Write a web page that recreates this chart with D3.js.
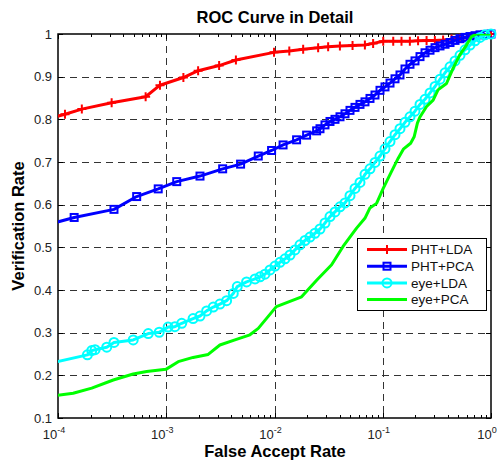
<!DOCTYPE html>
<html>
<head>
<meta charset="utf-8">
<script src="https://cdn.jsdelivr.net/npm/d3@7"></script>
<style>
  body { margin: 0; background: #fff; }
  text { font-family: "Liberation Sans", Arial, Helvetica, sans-serif; }
</style>
</head>
<body>
<svg id="chart" width="502" height="461"></svg>
<script>
// data: [false accept rate, verification rate]
var phtLda = [[7e-5,0.797],[1.16e-4,0.812],[1.66e-4,0.824],[3.13e-4,0.839],[6.45e-4,0.853],[8.75e-4,0.880],
  [1.44e-3,0.898],[1.97e-3,0.914],[3.08e-3,0.926],[4.4e-3,0.939],[9.9e-3,0.957],[1.37e-2,0.960],[1.84e-2,0.964],
  [2.53e-2,0.968],[3.13e-2,0.970],[4.02e-2,0.972],[5.26e-2,0.973],[6.84e-2,0.974],[8.15e-2,0.978],[0.101,0.983],
  [0.125,0.983],[0.149,0.983],[0.178,0.983],[0.212,0.984],[0.254,0.985],[0.303,0.985],[0.361,0.986],[0.432,0.988],
  [0.515,0.990],[0.615,0.992],[0.735,0.995],[0.845,0.998],[1.0,1.0]];

var phtPca = [[8e-5,0.553],[1.41e-4,0.570],[3.29e-4,0.589],[5.33e-4,0.619],[8.43e-4,0.637],[1.25e-3,0.654],
  [2.05e-3,0.667],[3.32e-3,0.684],[4.86e-3,0.695],[7.08e-3,0.714],[9.4e-3,0.727],[1.2e-2,0.740],[1.6e-2,0.752],
  [1.98e-2,0.763],[2.45e-2,0.773],[2.632e-2,0.778],[2.927e-2,0.787],[3.256e-2,0.795],[3.621e-2,0.800],
  [4.028e-2,0.806],[4.48e-2,0.813],[4.983e-2,0.821],[5.541e-2,0.828],[6.163e-2,0.835],[6.855e-2,0.841],
  [7.624e-2,0.849],[8.48e-2,0.857],[9.432e-2,0.868],[0.1049,0.876],[0.1167,0.885],[0.1298,0.895],[0.1443,0.904],
  [0.1605,0.918],[0.1785,0.929],[0.1986,0.937],[0.2209,0.947],[0.2457,0.956],[0.2733,0.962],[0.304,0.968],
  [0.3381,0.972],[0.376,0.976],[0.4182,0.980],[0.4651,0.985],[0.5173,0.989],[0.5754,0.992],[0.6399,0.994],
  [0.7118,0.996],[0.7916,0.998],[0.8804,0.999],[1.0,1.0]];

var eyeLda = [[8e-5,0.227],[1.87e-4,0.248],[2.05e-4,0.258],[2.2e-4,0.260],[2.82e-4,0.266],[3.29e-4,0.277],
  [4.95e-4,0.283],[6.82e-4,0.298],[8.61e-4,0.301],[1.04e-3,0.313],[1.2e-3,0.314],[1.39e-3,0.322],[1.77e-3,0.333],
  [2.05e-3,0.339],[2.36e-3,0.351],[2.72e-3,0.360],[3.13e-3,0.367],[3.61e-3,0.375],[4.16e-3,0.392],[4.53e-3,0.408],
  [5.52e-3,0.419],[6.61e-3,0.426],[7.35e-3,0.431],[8.17e-3,0.437],[9.09e-3,0.447],[1.011e-2,0.456],
  [1.124e-2,0.465],[1.25e-2,0.473],[1.39e-2,0.482],[1.546e-2,0.494],[1.72e-2,0.506],[1.913e-2,0.516],
  [2.127e-2,0.524],[2.366e-2,0.533],[2.632e-2,0.543],[2.927e-2,0.557],[3.256e-2,0.572],[3.621e-2,0.583],
  [4.028e-2,0.595],[4.48e-2,0.604],[4.983e-2,0.621],[5.541e-2,0.638],[6.163e-2,0.652],[6.855e-2,0.671],
  [7.624e-2,0.684],[8.48e-2,0.699],[9.432e-2,0.714],[0.1049,0.731],[0.1167,0.748],[0.1298,0.764],[0.1443,0.778],
  [0.1605,0.793],[0.1785,0.806],[0.1986,0.819],[0.2209,0.835],[0.2457,0.847],[0.2733,0.862],[0.304,0.877],
  [0.3381,0.894],[0.376,0.909],[0.4182,0.923],[0.4651,0.937],[0.5173,0.950],[0.5754,0.963],[0.6399,0.974],
  [0.7118,0.984],[0.7916,0.992],[0.8804,0.998],[1.0,1.0]];

var eyePca = [[8e-5,0.150],[1.38e-4,0.158],[2.05e-4,0.170],[3.24e-4,0.189],[4.95e-4,0.203],[6.59e-4,0.209],
  [9.93e-4,0.214],[1.29e-3,0.232],[1.77e-3,0.242],[2.44e-3,0.249],[3.13e-3,0.271],[4.31e-3,0.283],[5.93e-3,0.295],
  [7.08e-3,0.310],[1.04e-2,0.361],[1.78e-2,0.384],[2.45e-2,0.423],[3.37e-2,0.459],[4.3e-2,0.502],[5.73e-2,0.545],
  [6.84e-2,0.568],[7.6e-2,0.592],[8.77e-2,0.603],[0.101,0.638],[0.12,0.677],[0.139,0.709],[0.155,0.730],
  [0.181,0.744],[0.195,0.759],[0.209,0.791],[0.220,0.805],[0.254,0.830],[0.292,0.845],[0.324,0.869],
  [0.388,0.884],[0.447,0.920],[0.515,0.951],[0.594,0.974],[0.661,0.994],[0.735,1.0],[1.0,1.0]];

var seriesNames = ["PHT+LDA", "PHT+PCA", "eye+LDA", "eye+PCA"];
var seriesColors = ["#ff0000", "#0000ff", "#00ffff", "#00ff00"];
var seriesMarkers = ["plus", "square", "circle", "none"];
var xTicks = [1e-4, 1e-3, 1e-2, 1e-1, 1];
var xTickExp = ["-4", "-3", "-2", "-1", "0"];
var yTicks = [0.1, 0.2, 0.3, 0.4, 0.5, 0.6, 0.7, 0.8, 0.9, 1];

var pL = 58, pR = 491, pT = 34, pB = 418;

var svg = d3.select("#chart");
var x = d3.scaleLog().domain([1e-4, 1]).range([pL, pR]);
var y = d3.scaleLinear().domain([0.1, 1]).range([pB, pT]);

svg.append("defs").append("clipPath").attr("id", "plotclip")
  .append("rect").attr("x", pL).attr("y", pT).attr("width", pR - pL).attr("height", pB - pT);

// grid
var grid = svg.append("g").attr("stroke", "#333").attr("stroke-width", 1).attr("stroke-dasharray", "7,5");
grid.selectAll(".gx").data(xTicks.slice(1, -1)).enter().append("line")
  .attr("x1", function(d) { return Math.round(x(d)) + 0.5; }).attr("x2", function(d) { return Math.round(x(d)) + 0.5; })
  .attr("y1", pT).attr("y2", pB);
grid.selectAll(".gy").data(yTicks.slice(1, -1)).enter().append("line")
  .attr("y1", function(d) { return Math.round(y(d)) + 0.5; }).attr("y2", function(d) { return Math.round(y(d)) + 0.5; })
  .attr("x1", pL).attr("x2", pR);

// ticks (inward, all four sides)
var minor = [];
for (var e = -4; e < 0; e++) for (var m = 2; m <= 9; m++) minor.push(m * Math.pow(10, e));
var ticks = svg.append("g").attr("stroke", "#000").attr("stroke-width", 1);
[[pT, 1], [pB, -1]].forEach(function(s) {
  ticks.selectAll(null).data(xTicks).enter().append("line")
    .attr("x1", function(d) { return Math.round(x(d)) + 0.5; }).attr("x2", function(d) { return Math.round(x(d)) + 0.5; })
    .attr("y1", s[0]).attr("y2", s[0] + s[1] * 5);
  ticks.selectAll(null).data(minor).enter().append("line")
    .attr("x1", function(d) { return Math.round(x(d)) + 0.5; }).attr("x2", function(d) { return Math.round(x(d)) + 0.5; })
    .attr("y1", s[0]).attr("y2", s[0] + s[1] * 3);
});
[[pL, 1], [pR, -1]].forEach(function(s) {
  ticks.selectAll(null).data(yTicks).enter().append("line")
    .attr("y1", function(d) { return Math.round(y(d)) + 0.5; }).attr("y2", function(d) { return Math.round(y(d)) + 0.5; })
    .attr("x1", s[0]).attr("x2", s[0] + s[1] * 5);
});

// axes box
svg.append("rect").attr("x", pL).attr("y", pT).attr("width", pR - pL).attr("height", pB - pT)
  .attr("fill", "none").attr("stroke", "#000").attr("stroke-width", 1.5);

// tick labels
svg.selectAll(".ylab").data(yTicks).enter().append("text")
  .attr("x", pL - 6).attr("y", function(d) { return y(d) + 4.5; })
  .attr("text-anchor", "end").attr("font-size", 13).attr("fill", "#222")
  .text(function(d) { return d === 1 ? "1" : d3.format(".1f")(d); });

var xl = svg.selectAll(".xlab").data(xTicks).enter().append("text")
  .attr("x", function(d) { return x(d) - 4; }).attr("y", pB + 21)
  .attr("text-anchor", "middle").attr("font-size", 13).attr("fill", "#222");
xl.append("tspan").text("10");
xl.append("tspan").attr("dy", -6).attr("font-size", 9).text(function(d, i) { return xTickExp[i]; });

// titles
svg.append("text").attr("x", 275).attr("y", 23).attr("text-anchor", "middle")
  .attr("font-size", 16.5).attr("font-weight", "bold").text("ROC Curve in Detail");
svg.append("text").attr("x", 275).attr("y", 457).attr("text-anchor", "middle")
  .attr("font-size", 16.5).attr("font-weight", "bold").text("False Accept Rate");
svg.append("text").attr("transform", "translate(24," + ((pT + pB) / 2) + ") rotate(-90)")
  .attr("text-anchor", "middle").attr("font-size", 16.5).attr("font-weight", "bold").text("Verification Rate");

// marker drawing
function drawMarker(g, kind, color) {
  if (kind === "plus") {
    g.append("path").attr("d", "M-4.5,0H4.5M0,-4.5V4.5").attr("stroke", color).attr("stroke-width", 2).attr("fill", "none");
  } else if (kind === "square") {
    g.append("rect").attr("x", -3.5).attr("y", -3.5).attr("width", 7).attr("height", 7)
      .attr("stroke", color).attr("stroke-width", 2).attr("fill", "none");
  } else if (kind === "circle") {
    g.append("circle").attr("r", 4.5).attr("stroke", color).attr("stroke-width", 2).attr("fill", "none");
  }
}

var line = d3.line().x(function(d) { return x(d[0]); }).y(function(d) { return y(d[1]); });
var allSeries = [phtLda, phtPca, eyeLda, eyePca];

allSeries.forEach(function(data, i) {
  var g = svg.append("g");
  g.append("path").datum(data).attr("d", line).attr("clip-path", "url(#plotclip)")
    .attr("fill", "none").attr("stroke", seriesColors[i]).attr("stroke-width", 3).attr("stroke-linejoin", "round");
  if (seriesMarkers[i] !== "none") {
    g.selectAll(".mk").data(data.filter(function(d) { return d[0] >= 1e-4; })).enter().append("g")
      .attr("transform", function(d) { return "translate(" + x(d[0]) + "," + y(d[1]) + ")"; })
      .each(function() { drawMarker(d3.select(this), seriesMarkers[i], seriesColors[i]); });
  }
});

// legend
var lg = svg.append("g");
lg.append("rect").attr("x", 357.5).attr("y", 238.5).attr("width", 129).attr("height", 72)
  .attr("fill", "#fff").attr("stroke", "#000").attr("stroke-width", 1);
seriesNames.forEach(function(name, i) {
  var yy = 249.5 + i * 16.7;
  lg.append("line").attr("x1", 367).attr("x2", 407).attr("y1", yy).attr("y2", yy)
    .attr("stroke", seriesColors[i]).attr("stroke-width", 3);
  var mg = lg.append("g").attr("transform", "translate(387," + yy + ")");
  drawMarker(mg, seriesMarkers[i], seriesColors[i]);
  lg.append("text").attr("x", 411).attr("y", yy + 4.8).attr("font-size", 13.5).attr("fill", "#111").text(name);
});
</script>
</body>
</html>
